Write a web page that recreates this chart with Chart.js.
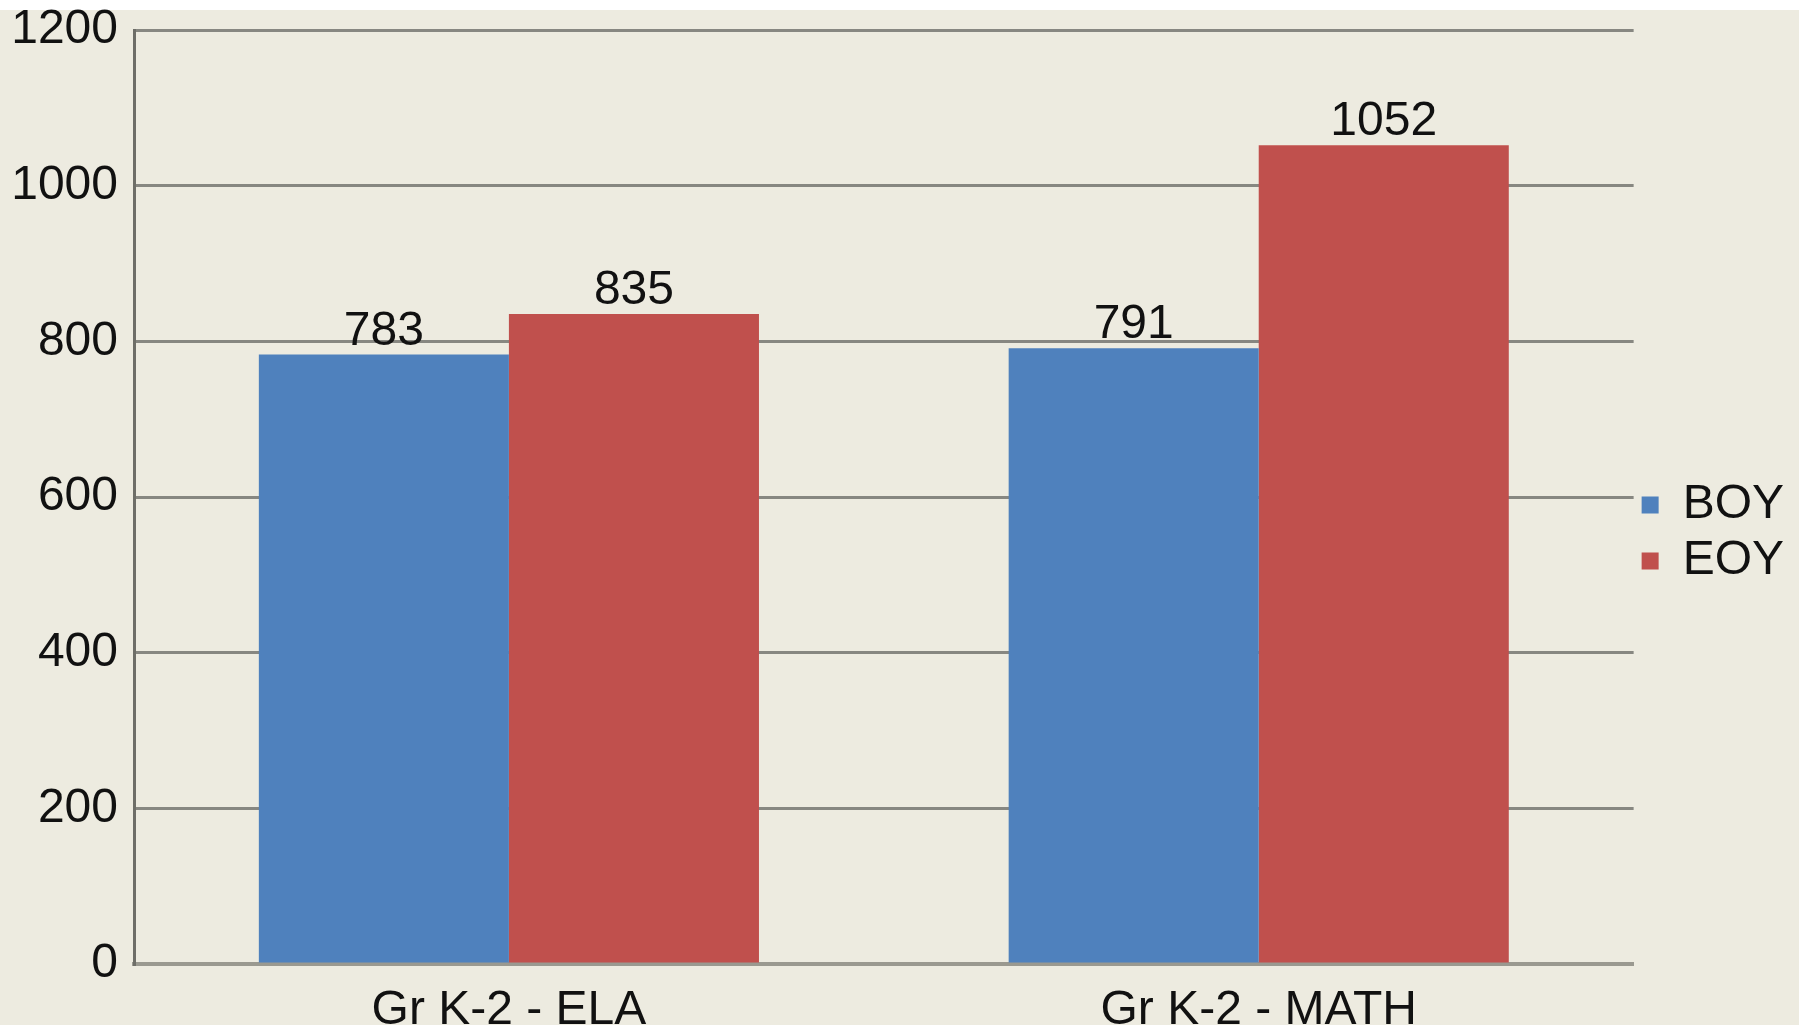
<!DOCTYPE html>
<html>
<head>
<meta charset="utf-8">
<script src="https://cdn.jsdelivr.net/npm/chart.js"></script>
<style>
  html, body { margin: 0; padding: 0; background: #ffffff; }
  #wrap { width: 1799px; height: 1025px; }
</style>
</head>
<body>
<div id="wrap"><canvas id="barChart" width="1799" height="1025"></canvas></div>
<script>
// chart data
const categories = ["Gr K-2 - ELA", "Gr K-2 - MATH"];
const seriesNames = ["BOY", "EOY"];
const boyValues = [783, 791];
const eoyValues = [835, 1052];
const yTicks = [0, 200, 400, 600, 800, 1000, 1200];

const FONT = "'Liberation Sans', Arial, sans-serif";

// beige background with white strip on top
const backgroundPlugin = {
    id: 'bg',
    beforeDraw: function (chart) {
        const ctx = chart.ctx;
        ctx.save();
        ctx.fillStyle = '#ffffff';
        ctx.fillRect(0, 0, chart.width, chart.height);
        ctx.fillStyle = '#edebe0';
        ctx.fillRect(0, 10, chart.width, chart.height - 10);
        ctx.restore();
    }
};

// value labels above each bar
const valueLabels = {
    id: 'valueLabels',
    afterDatasetsDraw: function (chart) {
        const ctx = chart.ctx;
        ctx.save();
        ctx.font = '48px ' + FONT;
        ctx.fillStyle = '#111111';
        ctx.textAlign = 'center';
        ctx.textBaseline = 'alphabetic';
        chart.data.datasets.forEach(function (ds, i) {
            chart.getDatasetMeta(i).data.forEach(function (bar, j) {
                ctx.fillText(String(ds.data[j]), bar.x, bar.y - 10);
            });
        });
        ctx.restore();
    }
};

var ctxB = document.getElementById('barChart').getContext('2d');
var myBarChart = new Chart(ctxB, {
    type: 'bar',
    data: {
        labels: categories,
        datasets: [{
            label: seriesNames[0],
            data: boyValues,
            backgroundColor: '#4f81bd'
        }, {
            label: seriesNames[1],
            data: eoyValues,
            backgroundColor: '#c0504d'
        }]
    },
    options: {
        responsive: false,
        animation: false,
        devicePixelRatio: 1,
        categoryPercentage: 0.667,
        barPercentage: 1.0,
        layout: {
            padding: { top: 30, left: 0, right: 5, bottom: -11 }
        },
        plugins: {
            tooltip: { enabled: false },
            legend: {
                position: 'right',
                labels: {
                    boxWidth: 17,
                    boxHeight: 17,
                    padding: 8,
                    color: '#111111',
                    font: { family: FONT, size: 48 }
                }
            }
        },
        scales: {
            x: {
                grid: { display: false },
                border: { display: true, color: '#9a9990', width: 4 },
                ticks: {
                    color: '#111111',
                    padding: 10,
                    font: { family: FONT, size: 48 }
                },
                afterFit: function (scale) { scale.height = 72; }
            },
            y: {
                min: 0,
                max: 1200,
                afterBuildTicks: function (scale) {
                    scale.ticks = yTicks.map(function (v) { return { value: v }; });
                },
                grid: { color: '#878781', lineWidth: 3, drawTicks: false },
                border: { display: true, color: '#6e6e68', width: 3 },
                ticks: {
                    color: '#111111',
                    padding: 16,
                    font: { family: FONT, size: 48 },
                    callback: function (value) { return String(value); }
                },
                afterFit: function (scale) {
                    scale.width = 134;
                    scale.paddingTop = 0;
                    scale.paddingBottom = 0;
                }
            }
        }
    },
    plugins: [backgroundPlugin, valueLabels]
});
</script>
</body>
</html>
